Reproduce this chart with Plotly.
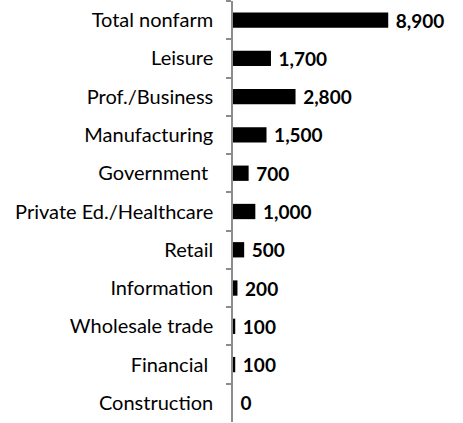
import plotly.graph_objects as go

categories = ["Total nonfarm", "Leisure", "Prof./Business", "Manufacturing",
              "Government\u00a0", "Private Ed./Healthcare", "Retail", "Information",
              "Wholesale trade", "Financial\u00a0", "Construction"]
# labelled values
values = [8900, 1700, 2800, 1500, 700, 1000, 500, 200, 100, 100, 0]
# bar lengths as drawn in the picture (total nonfarm bar is drawn shorter than its label)
bar_lengths = [6950, 1700, 2800, 1500, 700, 1000, 500, 200, 100, 100, 0]
labels = [f"\u00a0{v:,}" for v in values]

FONT = "Lato, Carlito, Calibri, sans-serif"

fig = go.Figure(go.Bar(
    x=bar_lengths, y=categories, orientation="h",
    marker=dict(color="#000000", line=dict(width=0)),
    text=labels, textposition="outside", cliponaxis=False,
    constraintext="none", textangle=0,
    textfont=dict(family=FONT, size=19, color="#000000", weight="bold"),
    hoverinfo="skip",
))

fig.update_layout(
    width=463, height=423,
    margin=dict(l=233, r=29, t=1, b=1, autoexpand=False),
    paper_bgcolor="white", plot_bgcolor="white",
    bargap=0.6, showlegend=False,
    font=dict(family=FONT, size=20, color="#000000"),
    xaxis=dict(range=[0, 9000], visible=False, fixedrange=True),
    yaxis=dict(autorange="reversed", type="category", automargin=False,
               showline=True, linecolor="#8c8c8c", linewidth=1.5,
               ticks="outside", tickson="boundaries", ticklen=5,
               tickcolor="#8c8c8c", tickwidth=1.5,
               showgrid=False, ticklabelstandoff=14,
               tickfont=dict(family=FONT, size=20, color="#000000")),
)

fig.write_html("out.html", config={"displayModeBar": False},
               post_script="document.body.style.margin='0px';")
